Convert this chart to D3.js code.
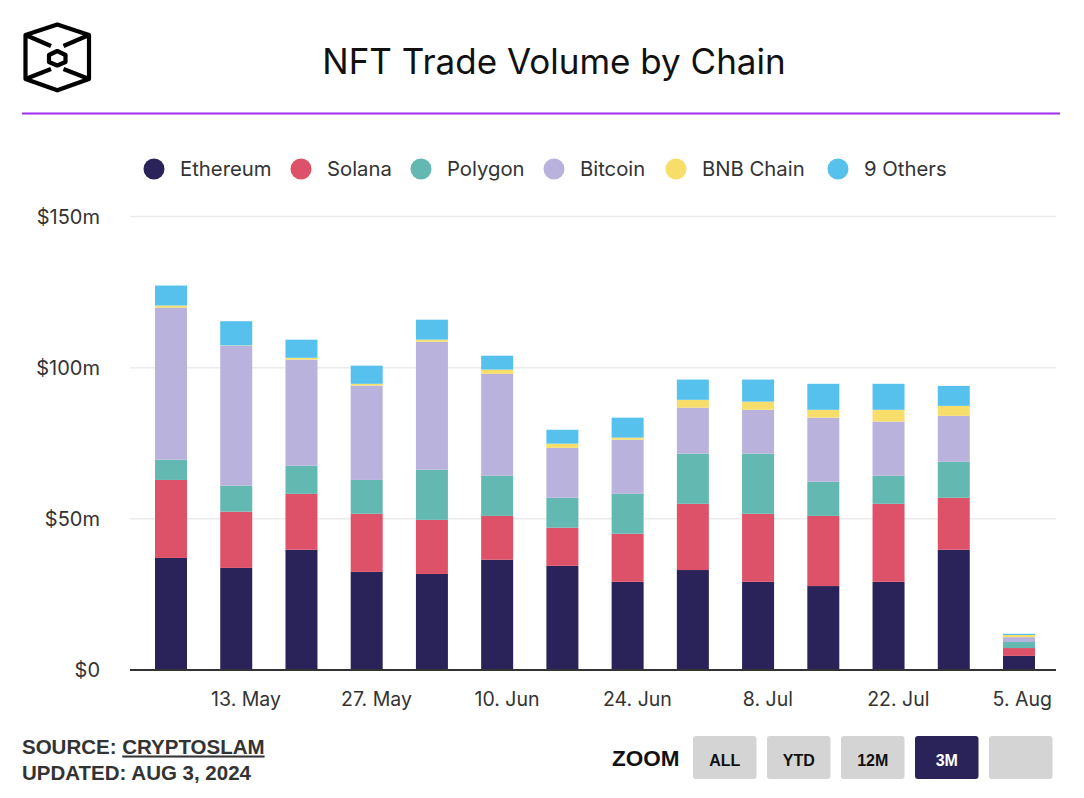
<!DOCTYPE html>
<html>
<head>
<meta charset="utf-8">
<script src="https://cdn.jsdelivr.net/npm/d3@7"></script>
<style>
  html, body { margin: 0; padding: 0; background: #fff; }
  svg { display: block; }
  text { font-family: Inter, "Noto Sans", sans-serif; }
  .hb { font-family: "Liberation Sans", Arial, Helvetica, sans-serif; font-weight: bold; }
</style>
</head>
<body>
<svg id="chart" width="1084" height="798"></svg>
<script>
// ---- data ----
const weekDates = ["2024-05-05","2024-05-12","2024-05-19","2024-05-26","2024-06-02","2024-06-09","2024-06-16",
                   "2024-06-23","2024-06-30","2024-07-07","2024-07-14","2024-07-21","2024-07-28","2024-08-04"];
const ethereum = [36.9, 33.6, 39.6, 32.3, 31.6, 36.3, 34.3, 29.0, 32.9, 29.0, 27.6, 29.0, 39.6, 4.5];
const solana   = [25.8, 18.6, 18.5, 19.2, 17.9, 14.5, 12.6, 15.9, 21.9, 22.5, 23.2, 25.8, 17.2, 2.6];
const polygon  = [6.7, 8.6, 9.3, 11.2, 16.6, 13.3, 9.9, 13.2, 16.6, 19.9, 11.3, 9.3, 11.9, 2.0];
const bitcoin  = [50.3, 46.3, 35.1, 31.2, 42.3, 33.7, 16.5, 17.9, 15.2, 14.5, 21.2, 17.9, 15.2, 1.6];
const bnbChain = [0.7, 0.1, 0.6, 0.6, 0.7, 1.4, 1.4, 0.7, 2.6, 2.7, 2.6, 3.9, 3.3, 0.7];
const others   = [6.6, 8.0, 6.0, 6.0, 6.6, 4.6, 4.6, 6.6, 6.7, 7.3, 8.6, 8.6, 6.6, 0.4];
const seriesNames = ["Ethereum", "Solana", "Polygon", "Bitcoin", "BNB Chain", "9 Others"];
const seriesColors = ["#2a2359", "#de5269", "#63b8b1", "#b8b2dc", "#f7de6a", "#57c1ee"];
const tickDates = ["2024-05-13","2024-05-27","2024-06-10","2024-06-24","2024-07-08","2024-07-22","2024-08-05"];
const tickLabels = ["13. May","27. May","10. Jun","24. Jun","8. Jul","22. Jul","5. Aug"];
const yTicks = [0, 50, 100, 150];
const yTickLabels = ["$0", "$50m", "$100m", "$150m"];
const zoomButtons = ["ALL", "YTD", "12M", "3M", ""];

// ---- build table ----
const seriesValues = [ethereum, solana, polygon, bitcoin, bnbChain, others];
const parse = d3.utcParse("%Y-%m-%d");
const table = weekDates.map((d, i) => {
  const row = { date: parse(d) };
  seriesNames.forEach((n, k) => row[n] = seriesValues[k][i]);
  return row;
});
const stack = d3.stack().keys(seriesNames)(table);

const svg = d3.select("#chart");
const plot = { left: 130, right: 1056, top: 216, bottom: 669.5 };

const day = 864e5;
const first = table[0].date, last = table[table.length - 1].date;
const x = d3.scaleUtc()
  .domain([new Date(+first - 4.4 * day), new Date(+last + 3.97 * day)])
  .range([plot.left, plot.right]);
const y = d3.scaleLinear().domain([0, 150]).range([plot.bottom, plot.top]);
const color = d3.scaleOrdinal().domain(seriesNames).range(seriesColors);
const barW = 32;

// ---- logo ----
const logo = svg.append("g").attr("fill", "none").attr("stroke", "#000")
  .attr("stroke-width", 4.2).attr("stroke-linejoin", "round");
logo.append("path").attr("d", "M57.3,24.5 L89,35 L89,79 L57.3,90.3 L25.5,79 L25.5,35 Z");
logo.append("path").attr("d", "M57.3,51 L65.5,55 L65.5,62 L57.3,65.5 L49,62 L49,55 Z");
logo.append("path").attr("d", "M25.5,35 L51,46 M89,35 L63.5,46 M25.5,79 L51,69 M89,79 L63.5,69");

// ---- title ----
svg.append("text").attr("x", 554).attr("y", 73.5).attr("text-anchor", "middle")
  .attr("font-size", 35).attr("fill", "#111").text("NFT Trade Volume by Chain");
svg.append("line").attr("x1", 22).attr("x2", 1060).attr("y1", 113.5).attr("y2", 113.5)
  .attr("stroke", "#a12ff0").attr("stroke-width", 2);

// ---- legend ----
const legendX = [154, 301, 421, 554, 676, 838];
const lg = svg.append("g");
seriesNames.forEach((n, i) => {
  lg.append("circle").attr("cx", legendX[i]).attr("cy", 169).attr("r", 10.5).attr("fill", seriesColors[i]);
  lg.append("text").attr("x", legendX[i] + 26).attr("y", 176).attr("font-size", 20.3)
    .attr("fill", "#333").text(n);
});

// ---- grid + y axis ----
const yAxis = d3.axisLeft(y).tickValues(yTicks).tickSize(-(plot.right - plot.left))
  .tickFormat((d, i) => yTickLabels[i]);
const gy = svg.append("g").attr("transform", `translate(${plot.left},0)`).call(yAxis);
gy.select(".domain").remove();
gy.selectAll(".tick line").attr("stroke", "#ebebeb").attr("stroke-width", 1.5);
gy.selectAll(".tick text").attr("x", -30).attr("dy", "0.35em").attr("font-size", 20)
  .attr("fill", "#333").attr("font-family", "Inter, sans-serif");

// ---- bars ----
svg.append("g").selectAll("g").data(stack).join("g")
  .attr("fill", d => color(d.key))
  .selectAll("rect").data(d => d).join("rect")
  .attr("x", d => x(d.data.date) - barW / 2)
  .attr("width", barW)
  .attr("y", d => y(d[1]))
  .attr("height", d => Math.max(0, y(d[0]) - y(d[1])));

// ---- x axis ----
const xAxis = d3.axisBottom(x).tickValues(tickDates.map(parse)).tickSize(0)
  .tickFormat((d, i) => tickLabels[i]);
const gx = svg.append("g").attr("transform", `translate(0,${plot.bottom})`).call(xAxis);
gx.select(".domain").remove();
gx.selectAll(".tick text").attr("y", 30).attr("dy", "0.35em").attr("font-size", 19.5)
  .attr("fill", "#333").attr("font-family", "Inter, sans-serif")
  .each(function () {
    const w = this.getComputedTextLength();
    const t = d3.select(this.parentNode).attr("transform");
    const tx = +t.match(/translate\(([-\d.]+)/)[1];
    if (tx + w / 2 > 1052) d3.select(this).attr("x", 1052 - w / 2 - tx);
  });
svg.append("line").attr("x1", plot.left).attr("x2", plot.right)
  .attr("y1", plot.bottom + 0.5).attr("y2", plot.bottom + 0.5)
  .attr("stroke", "#333").attr("stroke-width", 2);

// ---- footer ----
const src = svg.append("text").attr("class", "hb").attr("x", 22).attr("y", 753.5)
  .attr("font-size", 20.5).attr("fill", "#333");
src.append("tspan").text("SOURCE: ");
src.append("tspan").attr("text-decoration", "underline").text("CRYPTOSLAM");
svg.append("text").attr("class", "hb").attr("x", 22).attr("y", 779.5)
  .attr("font-size", 20.5).attr("fill", "#333").text("UPDATED: AUG 3, 2024");

svg.append("text").attr("class", "hb").attr("x", 612).attr("y", 765.5)
  .attr("font-size", 22.5).attr("fill", "#111").text("ZOOM");
const bx = [693, 767, 841, 915, 989];
zoomButtons.forEach((b, i) => {
  const sel = b === "3M";
  svg.append("rect").attr("x", bx[i]).attr("y", 736).attr("width", 63.5).attr("height", 43)
    .attr("rx", 3).attr("fill", sel ? "#2a2359" : "#d4d4d4");
  svg.append("text").attr("class", "hb").attr("x", bx[i] + 31.75).attr("y", 766)
    .attr("text-anchor", "middle").attr("font-size", 16)
    .attr("fill", sel ? "#fff" : "#111").text(b);
});
</script>
</body>
</html>
